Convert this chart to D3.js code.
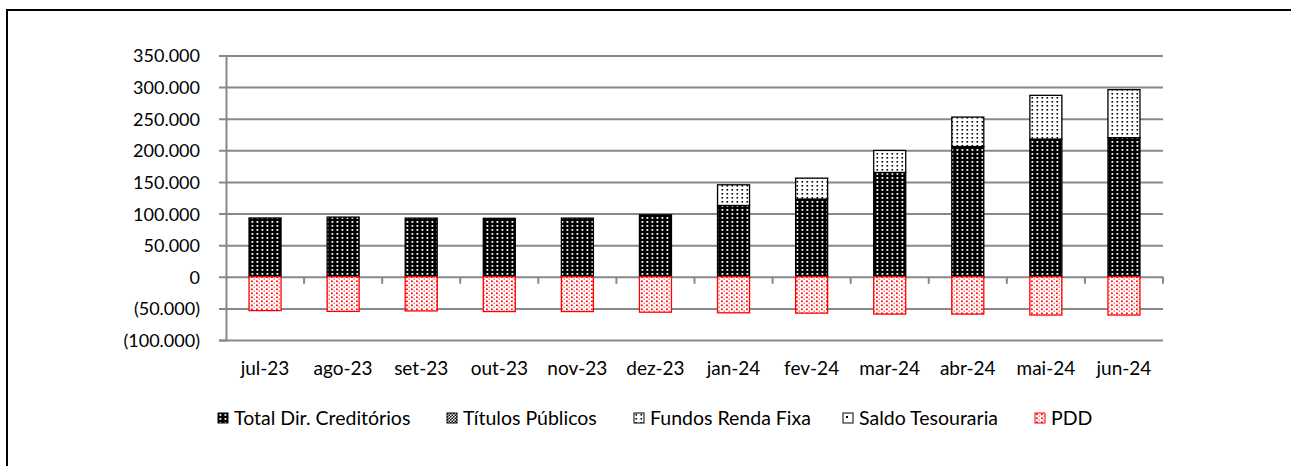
<!DOCTYPE html>
<html>
<head>
<meta charset="utf-8">
<script src="https://cdn.jsdelivr.net/npm/d3@7"></script>
<style>
  body { margin: 0; background: #fff; }
  text { font-family: Lato, "Open Sans", sans-serif; fill: #000; }
</style>
</head>
<body>
<svg id="chart" width="1291" height="466"></svg>
<script>
// data (values in R$ mil)
const months = ["jul-23", "ago-23", "set-23", "out-23", "nov-23", "dez-23",
                "jan-24", "fev-24", "mar-24", "abr-24", "mai-24", "jun-24"];
const creditorios = [93000, 94400, 92800, 92500, 92800, 98000, 112800, 123000, 165000, 206000, 217800, 220000];
const titulos     = [0, 0, 0, 0, 0, 0, 0, 0, 0, 0, 0, 0];
const fundos      = [0, 0, 0, 0, 0, 0, 32700, 33000, 34800, 46600, 69200, 76000];
const saldo       = [0, 0, 0, 0, 0, 0, 0, 0, 0, 0, 0, 0];
const pdd         = [-53500, -54800, -54000, -55000, -55000, -56000, -57000, -57500, -59000, -59000, -60500, -60500];
const yTicks = [-100000, -50000, 0, 50000, 100000, 150000, 200000, 250000, 300000, 350000];

const seriesKeys = ["cred", "tit", "fund", "saldo", "pdd"];
const seriesNames = ["Total Dir. Creditórios", "Títulos Públicos", "Fundos Renda Fixa", "Saldo Tesouraria", "PDD"];
const legendX = [218, 447, 634, 843, 1035];

const table = months.map((m, i) => ({
    month: m, cred: creditorios[i], tit: titulos[i], fund: fundos[i], saldo: saldo[i], pdd: pdd[i]
}));

const svg = d3.select("#chart");
const plotLeft = 226, plotRight = 1163, plotTop = 55.5, plotBottom = 340;

// frame round the chart (cut off at right and bottom like the original)
svg.append("rect")
    .attr("x", 7).attr("y", 10).attr("width", 1320).attr("height", 500)
    .style("fill", "none").style("stroke", "#000").style("stroke-width", 2);

// patterns
const defs = svg.append("defs");
function pattern(id, w, h, bg, dots) {
    const p = defs.append("pattern").attr("id", id)
        .attr("patternUnits", "userSpaceOnUse").attr("width", w).attr("height", h);
    p.append("rect").attr("width", w).attr("height", h).style("fill", bg);
    dots.forEach(d => p.append("rect")
        .attr("x", d[0]).attr("y", d[1]).attr("width", d[2]).attr("height", d[3])
        .style("fill", d[4]));
}
pattern("p-cred", 5, 4, "#000", [[1.5, 1, 1.8, 1.8, "#fff"]]);
pattern("p-tit", 3, 3, "#fff", [[0, 0, 1.5, 1.5, "#000"], [1.5, 1.5, 1.5, 1.5, "#000"]]);
pattern("p-fund", 5, 4, "#fff", [[1.5, 1, 1.6, 1.6, "#000"]]);
pattern("p-saldo", 8, 8, "#fff", [[3, 3, 2, 2, "#000"]]);
pattern("p-pdd", 5, 4, "#fff", [[1, 0.5, 1.8, 1.6, "#ff0000"], [3.5, 2.5, 1.5, 1.2, "#ff5050"]]);

const fills = { cred: "url(#p-cred)", tit: "url(#p-tit)", fund: "url(#p-fund)", saldo: "url(#p-saldo)", pdd: "url(#p-pdd)" };
const strokes = { cred: "#000", tit: "#000", fund: "#000", saldo: "#000", pdd: "#ff0000" };

const x = d3.scaleBand().domain(months).range([plotLeft, plotRight]).paddingInner(0.59).paddingOuter(0.295);
const xb = d3.scaleBand().domain(months).range([plotLeft, plotRight]);
const y = d3.scaleLinear().domain([-100000, 350000]).range([plotBottom, plotTop]);

const fmt = v => {
    const s = d3.format(",")(Math.abs(v)).replace(/,/g, ".");
    return v < 0 ? "(" + s + ")" : s;
};

// y axis with gridlines
const yAxis = svg.append("g").attr("transform", `translate(${plotLeft},0)`)
    .call(d3.axisLeft(y).tickValues(yTicks).tickSize(7).tickPadding(19).tickFormat(fmt));
yAxis.select(".domain").style("stroke", "#888").style("stroke-width", 2);
yAxis.selectAll(".tick line").style("stroke", "#888").style("stroke-width", 2)
    .attr("x2", plotRight - plotLeft).attr("x1", -7);
yAxis.selectAll(".tick text").style("font-size", "18px").attr("dy", "0.36em");

// x tick marks on the zero line
svg.append("g").selectAll("line.xt")
    .data(months)
    .join("line").attr("class", "xt")
    .attr("x1", d => xb(d) + xb.bandwidth())
    .attr("x2", d => xb(d) + xb.bandwidth())
    .attr("y1", y(0)).attr("y2", y(0) + 7)
    .style("stroke", "#888").style("stroke-width", 2);

// x labels
svg.append("g").selectAll("text.xl")
    .data(months).join("text").attr("class", "xl")
    .attr("x", d => xb(d) + xb.bandwidth() / 2)
    .attr("y", 375)
    .attr("text-anchor", "middle")
    .style("font-size", "19px")
    .text(d => d);

// stacked bars
const stack = d3.stack().keys(seriesKeys).offset(d3.stackOffsetDiverging);
const layers = stack(table);

svg.append("g").selectAll("g.layer")
    .data(layers).join("g").attr("class", "layer")
    .each(function(layer) {
        d3.select(this).selectAll("rect")
            .data(layer.filter(d => d[1] !== d[0]))
            .join("rect")
            .attr("x", d => x(d.data.month))
            .attr("width", x.bandwidth())
            .attr("y", d => y(Math.max(d[0], d[1])))
            .attr("height", d => Math.abs(y(d[0]) - y(d[1])))
            .style("fill", fills[layer.key])
            .style("stroke", strokes[layer.key])
            .style("stroke-width", 1.3);
    });

// legend
const legend = svg.append("g").selectAll("g.leg")
    .data(seriesKeys).join("g").attr("class", "leg")
    .attr("transform", (d, i) => `translate(${legendX[i]},413)`);
legend.append("rect")
    .attr("width", 10).attr("height", 10)
    .style("fill", d => fills[d])
    .style("stroke", d => strokes[d]).style("stroke-width", 1);
legend.append("text")
    .attr("x", 16).attr("y", 12)
    .style("font-size", "19.5px")
    .text((d, i) => seriesNames[i]);
</script>
</body>
</html>
